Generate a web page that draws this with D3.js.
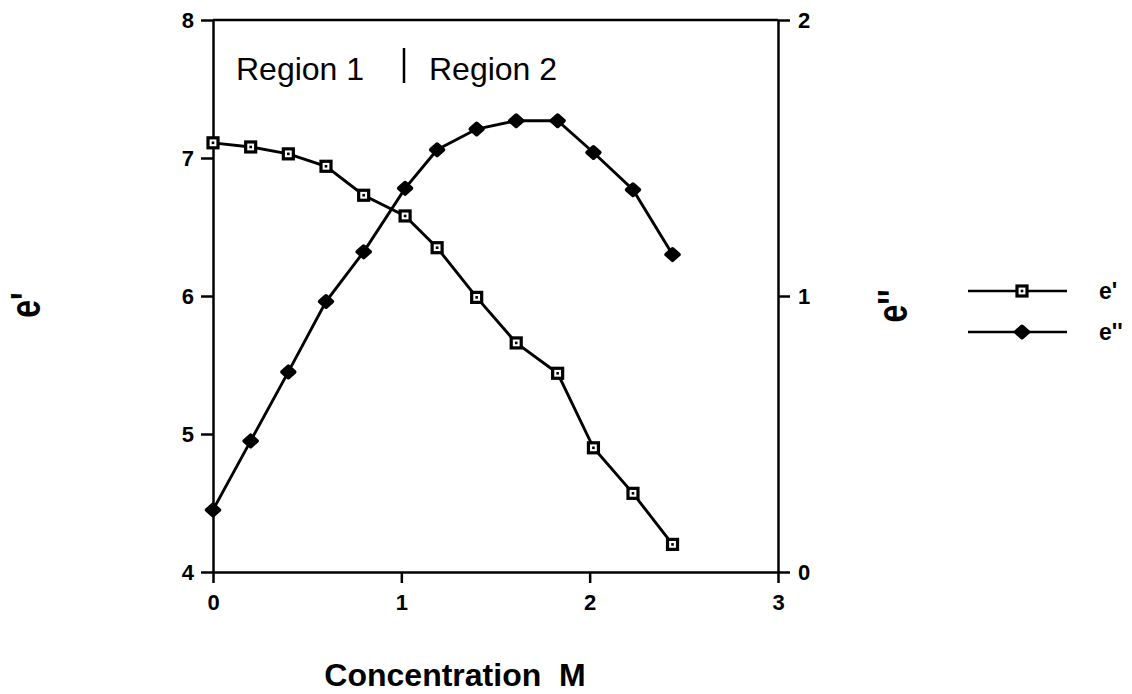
<!DOCTYPE html>
<html><head><meta charset="utf-8">
<script src="https://cdn.jsdelivr.net/npm/d3@7/dist/d3.min.js"></script>
<style>
html,body{margin:0;padding:0;background:#fff;}
svg{display:block;}
text{font-family:"Liberation Sans",Arial,Helvetica,sans-serif;fill:#000;}
</style></head>
<body>
<svg id="chart" width="1132" height="694"></svg>
<script>
// ---- data ----
const concentration = [0, 0.2, 0.4, 0.6, 0.8, 1.02, 1.19, 1.4, 1.61, 1.83, 2.02, 2.23, 2.44];
const ePrime = [7.11, 7.08, 7.03, 6.94, 6.73, 6.58, 6.35, 5.99, 5.66, 5.44, 4.90, 4.57, 4.20];
const eDoublePrime = [0.225, 0.475, 0.725, 0.98, 1.16, 1.39, 1.53, 1.605, 1.635, 1.635, 1.52, 1.385, 1.15];
const xTicks = [0, 1, 2, 3];
const yLeftTicks = [4, 5, 6, 7, 8];
const yRightTicks = [0, 1, 2];
const seriesNames = ["e'", "e''"];
const regionLabels = ["Region 1", "Region 2"];
const xTitle = "Concentration  M";
const yLeftTitle = "e'";
const yRightTitle = "e''";

const svg = d3.select("#chart");
svg.append("rect").attr("width",1132).attr("height",694).attr("fill","#fff");

const x = d3.scaleLinear().domain([0,3]).range([213,778]);
const yL = d3.scaleLinear().domain([4,8]).range([572,20]);
const yR = d3.scaleLinear().domain([0,2]).range([572,20]);

function styleAxis(g, fs){
  g.select(".domain").attr("stroke","#000").attr("stroke-width",2.5);
  g.selectAll(".tick line").attr("stroke","#000").attr("stroke-width",2.5);
  g.selectAll(".tick text").style("font-size",fs+"px").style("font-weight","bold")
    .attr("font-family",'"Liberation Sans",Arial,sans-serif').attr("fill","#000");
}

const gx = svg.append("g").attr("transform","translate(0,572)")
  .call(d3.axisBottom(x).tickValues(xTicks).tickFormat(d3.format("d")).tickSize(11).tickSizeOuter(0).tickPadding(11));
styleAxis(gx, 22);
const gl = svg.append("g").attr("transform","translate(213,0)")
  .call(d3.axisLeft(yL).tickValues(yLeftTicks).tickFormat(d3.format("d")).tickSize(12).tickSizeOuter(0).tickPadding(7));
styleAxis(gl, 22);
const gr = svg.append("g").attr("transform","translate(778,0)")
  .call(d3.axisRight(yR).tickValues(yRightTicks).tickFormat(d3.format("d")).tickSize(12).tickSizeOuter(0).tickPadding(8));
styleAxis(gr, 22);
// top frame line
svg.append("line").attr("x1",x(0)).attr("x2",x(3)).attr("y1",yL(8)).attr("y2",yL(8))
  .attr("stroke","#000").attr("stroke-width",2.5);

// ---- series ----
const lineL = d3.line().x((d,i)=>x(concentration[i])).y(d=>yL(d));
const lineR = d3.line().x((d,i)=>x(concentration[i])).y(d=>yR(d));
svg.append("path").attr("d",lineL(ePrime)).attr("fill","none").attr("stroke","#000").attr("stroke-width",2.9);
svg.append("path").attr("d",lineR(eDoublePrime)).attr("fill","none").attr("stroke","#000").attr("stroke-width",2.9);

function squareMarker(g, cx, cy){
  g.append("rect").attr("x",cx-5).attr("y",cy-5).attr("width",10).attr("height",10)
    .attr("fill","#fff").attr("stroke","#000").attr("stroke-width",3.2);
  g.append("rect").attr("x",cx-1.3).attr("y",cy-1.3).attr("width",2.6).attr("height",2.6).attr("fill","#000");
}
function diamondMarker(g, cx, cy){
  g.append("path").attr("d",`M${cx},${cy-5.5}L${cx+6.2},${cy}L${cx},${cy+5.5}L${cx-6.2},${cy}Z`)
    .attr("fill","#000").attr("stroke","#000").attr("stroke-width",4).attr("stroke-linejoin","round");
}
const gm = svg.append("g");
eDoublePrime.forEach((d,i)=>diamondMarker(gm, x(concentration[i]), yR(d)));
ePrime.forEach((d,i)=>squareMarker(gm, x(concentration[i]), yL(d)));

// ---- region annotation ----
svg.append("text").attr("x",236).attr("y",80).attr("font-size",32).text(regionLabels[0]);
svg.append("line").attr("x1",404).attr("x2",404).attr("y1",48).attr("y2",83).attr("stroke","#000").attr("stroke-width",2.5);
svg.append("text").attr("x",429).attr("y",80).attr("font-size",32).text(regionLabels[1]);

// ---- axis titles ----
svg.append("text").attr("x",455).attr("y",686).attr("text-anchor","middle")
  .attr("font-size",32).attr("font-weight","bold").style("white-space","pre").text(xTitle);
svg.append("text").attr("transform","translate(40,305) rotate(-90) scale(1,1.3)")
  .attr("text-anchor","middle").attr("font-size",32).attr("font-weight","bold").text(yLeftTitle);
svg.append("text").attr("transform","translate(907,306) rotate(-90) scale(1,1.3)")
  .attr("text-anchor","middle").attr("font-size",32).attr("font-weight","bold").text(yRightTitle);

// ---- legend ----
const legY = [291, 332];
const lg = svg.append("g");
seriesNames.forEach((name,i)=>{
  lg.append("line").attr("x1",968).attr("x2",1067).attr("y1",legY[i]).attr("y2",legY[i])
    .attr("stroke","#000").attr("stroke-width",2.6);
  if(i===0) squareMarker(lg, 1022, legY[i]); else diamondMarker(lg, 1022, legY[i]);
  lg.append("text").attr("x",1099).attr("y",legY[i]+8).attr("font-size",23).attr("font-weight","bold").text(name);
});
</script>
</body></html>
